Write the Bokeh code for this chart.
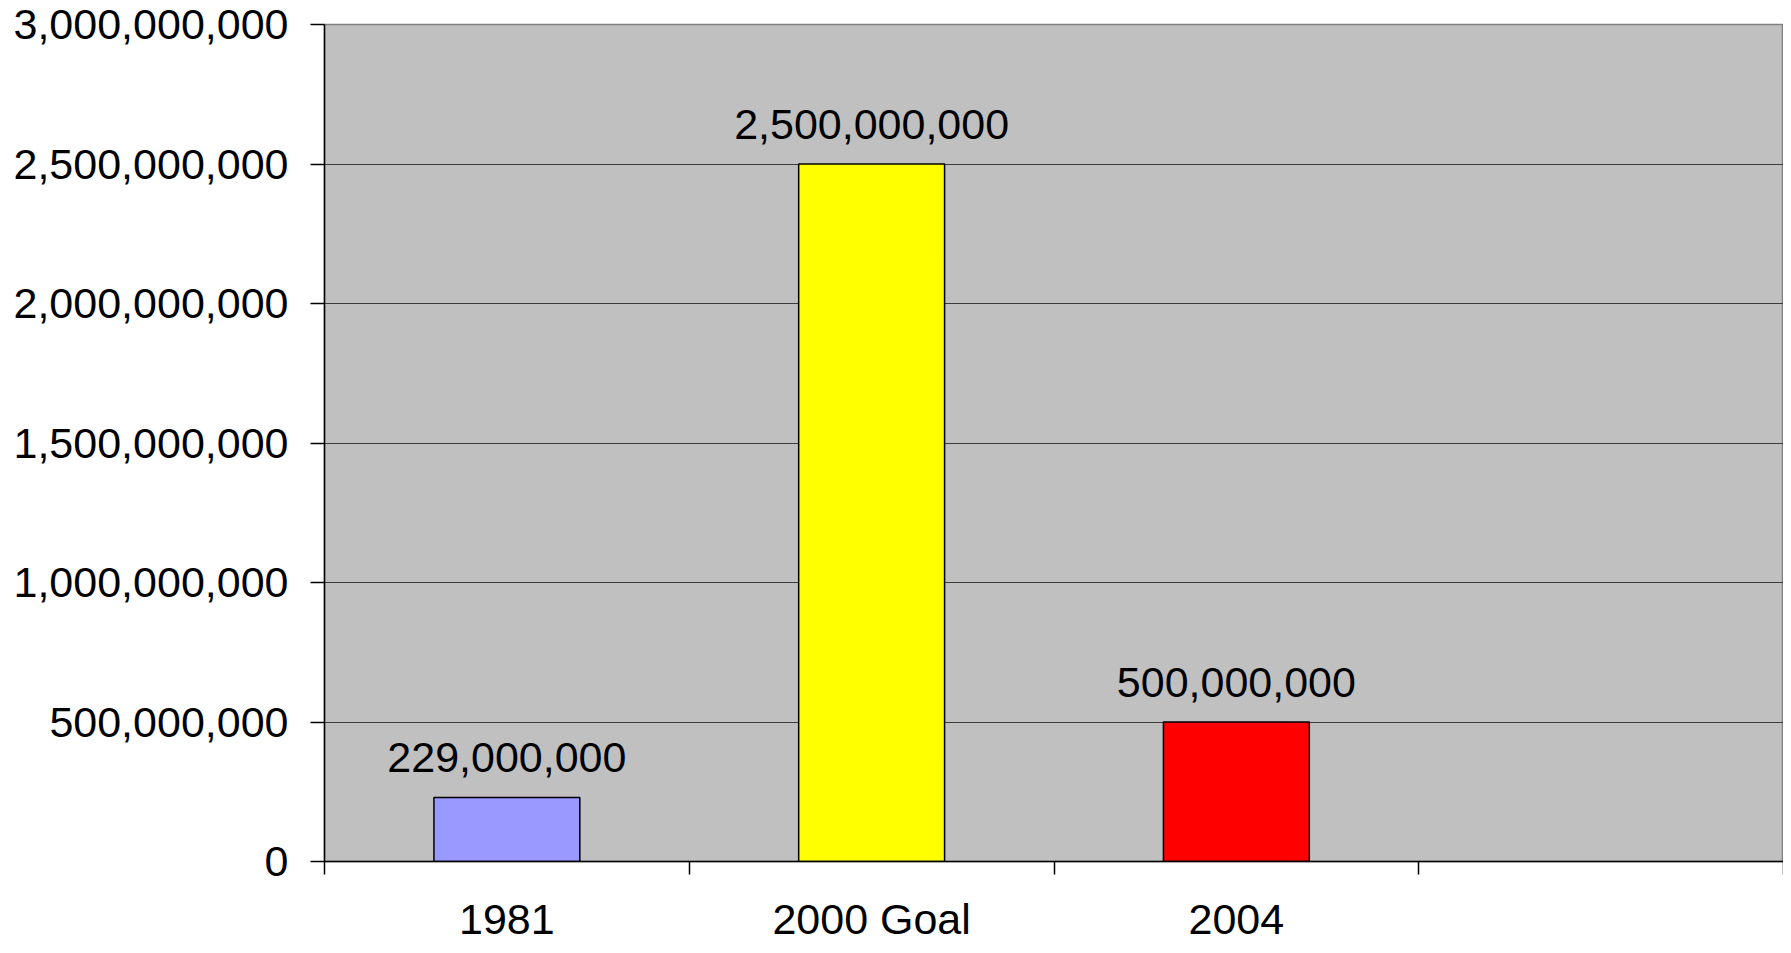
from bokeh.plotting import figure
from bokeh.models import ColumnDataSource, FixedTicker, NumeralTickFormatter, Range1d
from bokeh.core.properties import value
from bokeh.embed import file_html
from bokeh.resources import INLINE

# ---- data ----
categories = ["1981", "2000 Goal", "2004", ""]
values = [229000000, 2500000000, 500000000]
labels = ["229,000,000", "2,500,000,000", "500,000,000"]
bar_colors = ["#9999FF", "#FFFF00", "#FF0000"]
y_ticks = [0, 500000000, 1000000000, 1500000000, 2000000000, 2500000000, 3000000000]

FONT = "Liberation Sans"
FS = "43px"

n = len(categories)
centers = [i + 0.5 for i in range(n)]

src = ColumnDataSource(dict(
    x=centers[:len(values)],
    top=values,
    color=bar_colors,
    label=labels,
))

p = figure(width=1783, height=945, output_backend="svg", toolbar_location=None,
           x_range=Range1d(0, n), y_range=Range1d(0, 3000000000),
           min_border_left=324, min_border_right=0, min_border_top=24,
           min_border_bottom=10)

p.border_fill_color = "white"
p.background_fill_color = "#C0C0C0"
p.outline_line_color = "#808080"
p.outline_line_width = 1.5

p.vbar(x="x", top="top", bottom=0, width=0.4, fill_color="color",
       line_color="black", line_width=1.5, source=src)

p.text(x="x", y="top", text="label", source=src, text_align="center",
       text_baseline="alphabetic", y_offset=-40,
       text_font=value(FONT), text_font_size=FS, text_color="black")

# grid
p.xgrid.visible = False
p.ygrid.ticker = FixedTicker(ticks=y_ticks)
p.ygrid.grid_line_color = "#3c3c3c"
p.ygrid.grid_line_width = 1.2

# y axis
ya = p.yaxis[0]
ya.ticker = FixedTicker(ticks=y_ticks)
ya.formatter = NumeralTickFormatter(format="0,0")
ya.axis_line_color = "black"
ya.axis_line_width = 1.5
ya.major_tick_out = 14
ya.major_tick_in = 0
ya.major_tick_line_color = "black"
ya.major_tick_line_width = 1.5
ya.minor_tick_line_color = None
ya.major_label_standoff = 22
ya.major_label_text_font = FONT
ya.major_label_text_font_size = FS
ya.major_label_text_color = "black"

# x axis: category labels at centers, tick marks at boundaries
xa = p.xaxis[0]
xa.ticker = FixedTicker(ticks=centers, minor_ticks=[float(i) for i in range(n + 1)])
xa.major_label_overrides = {c: lab for c, lab in zip(centers, categories)}
xa.axis_line_color = "black"
xa.axis_line_width = 1.5
xa.major_tick_line_color = None
xa.major_tick_out = 0
xa.major_tick_in = 0
xa.minor_tick_line_color = "black"
xa.minor_tick_line_width = 1.5
xa.minor_tick_out = 13
xa.minor_tick_in = 0
xa.major_label_standoff = 20
xa.major_label_text_font = FONT
xa.major_label_text_font_size = FS
xa.major_label_text_color = "black"

open("out.html", "w").write(file_html(p, INLINE))
